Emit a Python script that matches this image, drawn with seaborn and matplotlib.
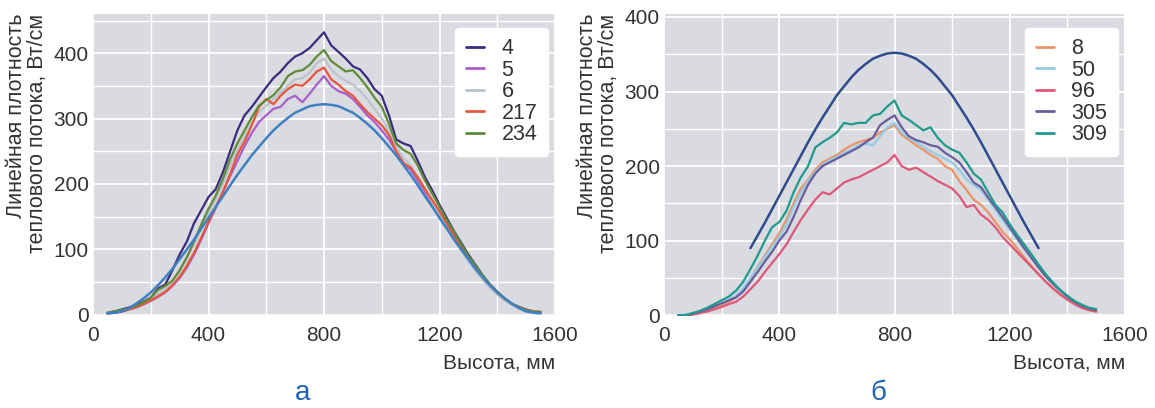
import matplotlib
matplotlib.use("Agg")
import matplotlib.pyplot as plt
from matplotlib.ticker import MultipleLocator
import pandas as pd
import seaborn as sns

# Height grid of the measured profiles, mm
HEIGHT_A = list(range(50, 1551, 25))
HEIGHT_B = list(range(50, 1501, 25))
HEIGHT_CALC_B = list(range(300, 1301, 25))

# Panel "а": linear heat-flux density, W/cm
FLUX_A = {
    "4": [3, 5, 8, 11, 15, 20, 26, 40, 46, 68,
          92, 112, 140, 160, 180, 192, 218, 250, 282, 305,
          318, 333, 348, 362, 372, 385, 395, 400, 408, 420,
          432, 412, 402, 392, 380, 375, 362, 345, 335, 305,
          268, 262, 258, 235, 210, 190, 168, 148, 128, 110,
          92, 76, 60, 46, 35, 25, 17, 12, 8, 5,
          4],
    "5": [2, 3, 5, 8, 11, 16, 21, 27, 34, 44,
          56, 72, 92, 115, 140, 163, 188, 212, 235, 258,
          278, 295, 305, 315, 318, 330, 335, 325, 338, 352,
          365, 350, 342, 338, 330, 318, 305, 295, 282, 268,
          250, 232, 222, 205, 188, 170, 152, 135, 118, 100,
          84, 69, 55, 42, 32, 23, 16, 11, 7, 5,
          4],
    "6": [3, 4, 6, 9, 13, 18, 24, 32, 40, 50,
          66, 86, 108, 132, 155, 178, 200, 228, 252, 272,
          292, 310, 320, 330, 340, 350, 360, 362, 370, 385,
          392, 375, 365, 358, 352, 342, 330, 315, 300, 282,
          258, 240, 228, 210, 192, 172, 152, 133, 116, 98,
          82, 67, 53, 41, 31, 22, 15, 10, 7, 5,
          4],
    "217": [2, 3, 5, 8, 12, 16, 22, 28, 35, 45,
            58, 75, 95, 118, 142, 165, 188, 215, 245, 265,
            290, 318, 330, 322, 335, 345, 352, 350, 360, 372,
            378, 360, 352, 342, 335, 322, 310, 300, 290, 275,
            250, 232, 225, 210, 192, 175, 158, 140, 122, 104,
            88, 72, 58, 45, 34, 25, 17, 11, 7, 5,
            4],
    "234": [3, 5, 7, 10, 14, 19, 26, 38, 44, 52,
            68, 88, 112, 138, 162, 182, 208, 238, 262, 282,
            302, 320, 328, 336, 348, 365, 372, 374, 382, 395,
            405, 388, 380, 372, 374, 362, 348, 332, 318, 292,
            262, 252, 246, 228, 205, 185, 165, 145, 127, 108,
            90, 75, 60, 46, 35, 25, 17, 11, 7, 5,
            4],
}
CALC_A = [2, 3, 5, 10, 17, 25, 34, 45, 57, 70,
          85, 100, 115, 132, 148, 165, 181, 198, 214, 229,
          244, 257, 270, 282, 292, 301, 309, 314, 319, 321,
          322, 321, 319, 314, 309, 301, 292, 282, 270, 257,
          244, 229, 214, 198, 181, 165, 148, 132, 115, 100,
          85, 70, 57, 45, 34, 25, 17, 10, 5, 3,
          2]

# Panel "б"
FLUX_B = {
    "8": [0, 0, 1, 3, 6, 10, 14, 18, 24, 34,
          48, 65, 80, 95, 110, 128, 150, 170, 182, 195,
          205, 210, 215, 222, 228, 232, 235, 238, 245, 250,
          255, 242, 235, 228, 222, 215, 210, 200, 195, 180,
          168, 155, 148, 138, 125, 112, 102, 90, 78, 66,
          55, 45, 36, 28, 21, 15, 10, 7, 5],
    "50": [0, 1, 3, 5, 8, 12, 16, 20, 26, 36,
           50, 64, 78, 92, 105, 122, 145, 165, 180, 192,
           202, 208, 212, 218, 222, 228, 230, 228, 240, 252,
           258, 245, 238, 232, 226, 220, 215, 210, 205, 195,
           182, 175, 168, 155, 142, 128, 115, 102, 89, 77,
           65, 53, 43, 34, 26, 19, 14, 10, 8],
    "96": [0, 0, 1, 3, 5, 8, 11, 15, 18, 25,
           35, 45, 58, 70, 82, 95, 112, 128, 142, 155,
           165, 162, 170, 178, 182, 185, 190, 195, 200, 205,
           215, 200, 195, 198, 192, 186, 180, 175, 170, 160,
           145, 148, 135, 128, 118, 105, 95, 85, 75, 65,
           55, 45, 36, 28, 21, 15, 10, 7, 5],
    "305": [0, 0, 2, 5, 8, 12, 16, 20, 24, 32,
            45, 58, 72, 85, 100, 112, 132, 155, 175, 190,
            200, 205, 210, 215, 220, 225, 232, 238, 255, 262,
            268, 252, 240, 235, 232, 228, 226, 218, 212, 205,
            192, 178, 172, 158, 145, 132, 118, 104, 90, 77,
            64, 52, 42, 33, 25, 18, 13, 9, 7],
    "309": [0, 0, 3, 6, 10, 15, 20, 25, 33, 45,
            62, 80, 100, 118, 125, 140, 165, 185, 200, 225,
            232, 238, 245, 258, 256, 258, 258, 268, 270, 280,
            288, 268, 262, 255, 248, 252, 238, 228, 222, 218,
            205, 190, 182, 165, 148, 138, 122, 108, 95, 82,
            68, 55, 44, 34, 26, 19, 14, 10, 8],
}
CALC_B = [90, 107, 124, 142, 160, 178, 196, 214, 232, 249,
          265, 280, 295, 307, 319, 329, 337, 344, 348, 351,
          352, 351, 348, 344, 337, 329, 319, 307, 295, 280,
          265, 249, 232, 214, 196, 178, 160, 142, 124, 107,
          90]

COLORS_A = {"4": "#3b2b7e", "5": "#a65fcb", "6": "#b9c3cc",
            "217": "#e8553d", "234": "#5f8b3a"}
CALC_COLOR_A = "#3f7fc2"
COLORS_B = {"8": "#eb9467", "50": "#93cbe3", "96": "#e0577a",
            "305": "#6a5b9d", "309": "#1f9a8c"}
CALC_COLOR_B = "#2d4b8d"

X_LABEL = "Высота, мм"
Y_LABEL = "Линейная плотность\nтеплового потока, Вт/см"
TEXT_COLOR = "#333333"


def long_frame(heights, series):
    parts = []
    for name, vals in series.items():
        parts.append(pd.DataFrame({"h": heights, "q": vals, "name": name}))
    return pd.concat(parts, ignore_index=True)


sns.set_theme(style="darkgrid")
plt.rcParams["font.family"] = ["Liberation Sans", "DejaVu Sans"]
plt.rcParams["axes.facecolor"] = "#d9dbe0"

fig = plt.figure(figsize=(11.55, 4.08), dpi=100)
W, H = 1155, 408
ax_a = fig.add_axes([93 / W, 1 - 316 / H, 462 / W, 302 / H])
ax_b = fig.add_axes([664 / W, 1 - 316 / H, 461 / W, 302 / H])


def draw_panel(ax, heights, series, colors, calc_h, calc_q, calc_color, ylim, yticks):
    df = long_frame(heights, series)
    sns.lineplot(data=df, x="h", y="q", hue="name", hue_order=list(series.keys()),
                 palette=colors, linewidth=1.6, ax=ax, sort=False)
    sns.lineplot(x=calc_h, y=calc_q, color=calc_color, linewidth=1.8,
                 ax=ax, legend=False, sort=False)
    ax.set_xlim(0, 1600)
    ax.set_ylim(*ylim)
    ax.set_xticks([0, 400, 800, 1200, 1600])
    ax.set_yticks(yticks)
    ax.xaxis.set_minor_locator(MultipleLocator(200))
    ax.yaxis.set_minor_locator(MultipleLocator(50))
    ax.grid(which="major", color="white", linewidth=1.3)
    ax.grid(which="minor", color="white", linewidth=1.0)
    ax.tick_params(axis="both", which="both", length=0, labelsize=15,
                   labelcolor=TEXT_COLOR)
    ax.tick_params(axis="x", pad=7)
    ax.tick_params(axis="y", pad=3)
    ax.set_xlabel(X_LABEL, loc="right", fontsize=15, color=TEXT_COLOR, labelpad=6)
    ax.set_ylabel(Y_LABEL, loc="top", fontsize=15.5, color=TEXT_COLOR, labelpad=4,
                  linespacing=1.0)
    for s in ax.spines.values():
        s.set_visible(False)
    handles, labels = ax.get_legend_handles_labels()
    leg = ax.legend(handles, labels, loc="upper right", bbox_to_anchor=(0.985, 0.955),
                    fontsize=15.5, handlelength=0.85, handletextpad=0.8,
                    labelspacing=0.02, borderpad=0.5, borderaxespad=0.0,
                    frameon=True, fancybox=True,
                    facecolor="white", edgecolor="white", framealpha=1.0)
    for t in leg.get_texts():
        t.set_color(TEXT_COLOR)
    for line in leg.get_lines():
        line.set_linewidth(2.0)


draw_panel(ax_a, HEIGHT_A, FLUX_A, COLORS_A, HEIGHT_A, CALC_A, CALC_COLOR_A,
           (-2, 460), [0, 100, 200, 300, 400])
draw_panel(ax_b, HEIGHT_B, FLUX_B, COLORS_B, HEIGHT_CALC_B, CALC_B, CALC_COLOR_B,
           (-1, 404), [0, 100, 200, 300, 400])

fig.text(303 / W, 1 - 393 / H, "а", fontsize=20, color="#2363ad",
         ha="center", va="center")
fig.text(878 / W, 1 - 393 / H, "б", fontsize=20, color="#2363ad",
         ha="center", va="center")

fig.savefig("out.png", dpi=100, facecolor="white")
